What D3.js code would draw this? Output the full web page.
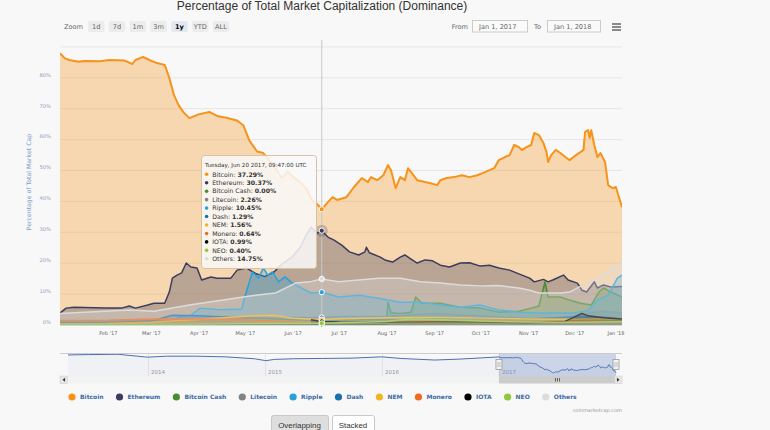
<!DOCTYPE html>
<html lang="en">
<head>
  <meta charset="utf-8">
  <title>Percentage of Total Market Capitalization (Dominance)</title>
  <script src="https://d3js.org/d3.v7.min.js"></script>
  <style>
    body { margin: 0; background: #f8f8f8; }
    svg { display: block; font-family: "DejaVu Sans", sans-serif; }
    .btn text { font-family: "Liberation Sans", Arial, sans-serif; }
  </style>
</head>
<body>
  <div id="chart"></div>

  <script>
    "use strict"

    // % of total market cap: [date, value]
    var bitcoin = [
      ["2017-01-01", 87.8], ["2017-01-04", 86.2], ["2017-01-07", 85.6], ["2017-01-13", 85.0],
      ["2017-01-17", 85.3], ["2017-01-27", 85.2], ["2017-02-02", 85.6], ["2017-02-12", 85.4],
      ["2017-02-17", 84.3], ["2017-02-19", 85.6], ["2017-02-24", 86.6], ["2017-02-28", 85.6],
      ["2017-03-05", 84.6], ["2017-03-10", 84.0], ["2017-03-13", 79.8], ["2017-03-16", 74.3],
      ["2017-03-19", 71.0], ["2017-03-22", 68.8], ["2017-03-26", 66.8], ["2017-04-01", 68.0],
      ["2017-04-08", 68.8], ["2017-04-13", 67.5], ["2017-04-19", 66.9], ["2017-04-26", 66.0],
      ["2017-04-30", 64.5], ["2017-05-04", 59.5], ["2017-05-09", 56.0], ["2017-05-13", 55.5],
      ["2017-05-17", 53.0], ["2017-05-21", 50.5], ["2017-05-25", 47.5], ["2017-05-29", 49.5],
      ["2017-06-02", 47.5], ["2017-06-06", 46.0], ["2017-06-10", 44.0], ["2017-06-14", 40.0],
      ["2017-06-17", 39.0], ["2017-06-20", 37.29], ["2017-06-24", 39.6], ["2017-06-27", 41.2],
      ["2017-06-30", 40.3], ["2017-07-06", 41.2], ["2017-07-11", 44.5], ["2017-07-16", 47.4],
      ["2017-07-20", 46.1], ["2017-07-22", 47.7], ["2017-07-26", 46.7], ["2017-07-30", 48.3],
      ["2017-08-02", 51.6], ["2017-08-04", 49.9], ["2017-08-07", 44.1], ["2017-08-10", 47.7],
      ["2017-08-13", 46.7], ["2017-08-15", 50.6], ["2017-08-17", 49.3], ["2017-08-21", 46.7],
      ["2017-08-26", 46.1], ["2017-08-29", 45.8], ["2017-09-03", 45.1], ["2017-09-05", 46.7],
      ["2017-09-09", 47.4], ["2017-09-14", 47.7], ["2017-09-19", 48.3], ["2017-09-24", 47.7],
      ["2017-09-29", 48.3], ["2017-10-04", 49.3], ["2017-10-10", 50.6], ["2017-10-13", 53.2],
      ["2017-10-17", 54.2], ["2017-10-20", 54.8], ["2017-10-23", 58.1], ["2017-10-26", 57.4],
      ["2017-10-28", 56.5], ["2017-10-31", 57.4], ["2017-11-03", 58.1], ["2017-11-05", 62.0],
      ["2017-11-08", 61.3], ["2017-11-11", 58.7], ["2017-11-13", 55.8], ["2017-11-14", 52.6],
      ["2017-11-16", 54.8], ["2017-11-19", 56.5], ["2017-11-22", 55.5], ["2017-11-26", 53.9],
      ["2017-11-28", 53.2], ["2017-12-02", 54.8], ["2017-12-05", 55.8], ["2017-12-07", 56.5],
      ["2017-12-08", 62.3], ["2017-12-10", 62.9], ["2017-12-11", 60.4], ["2017-12-12", 62.9],
      ["2017-12-14", 58.1], ["2017-12-16", 54.2], ["2017-12-18", 55.5], ["2017-12-21", 52.6],
      ["2017-12-23", 45.1], ["2017-12-26", 44.1], ["2017-12-28", 44.5], ["2017-12-30", 41.2],
      ["2018-01-01", 38.0]
    ];

    var ethereum = [
      ["2017-01-01", 3.7], ["2017-01-05", 5.3], ["2017-01-10", 5.6], ["2017-01-30", 5.3],
      ["2017-02-10", 5.3], ["2017-02-15", 6.0], ["2017-02-19", 5.3], ["2017-02-27", 6.3],
      ["2017-03-03", 6.9], ["2017-03-10", 6.9], ["2017-03-13", 10.5], ["2017-03-15", 15.0],
      ["2017-03-18", 16.0], ["2017-03-21", 16.7], ["2017-03-24", 19.9], ["2017-03-27", 18.6],
      ["2017-03-31", 18.3], ["2017-04-03", 14.4], ["2017-04-09", 15.4], ["2017-04-13", 15.0],
      ["2017-04-22", 15.0], ["2017-04-26", 17.6], ["2017-05-02", 18.3], ["2017-05-08", 16.5],
      ["2017-05-14", 15.5], ["2017-05-20", 17.0], ["2017-05-25", 19.5], ["2017-06-01", 22.0],
      ["2017-06-06", 25.0], ["2017-06-10", 29.0], ["2017-06-13", 31.5], ["2017-06-17", 29.5],
      ["2017-06-20", 30.37], ["2017-06-24", 28.3], ["2017-06-28", 27.3], ["2017-07-03", 25.7],
      ["2017-07-08", 23.5], ["2017-07-14", 22.5], ["2017-07-18", 23.5], ["2017-07-19", 25.0],
      ["2017-07-21", 23.2], ["2017-07-28", 21.8], ["2017-07-31", 20.9], ["2017-08-05", 20.2],
      ["2017-08-10", 21.8], ["2017-08-13", 22.5], ["2017-08-16", 21.5], ["2017-08-21", 19.9],
      ["2017-08-26", 20.9], ["2017-08-31", 20.6], ["2017-09-05", 19.2], ["2017-09-11", 18.6],
      ["2017-09-18", 19.9], ["2017-09-24", 20.0], ["2017-10-01", 18.9], ["2017-10-07", 19.2],
      ["2017-10-13", 18.3], ["2017-10-20", 17.6], ["2017-10-26", 16.4], ["2017-11-02", 15.0],
      ["2017-11-05", 13.8], ["2017-11-11", 14.6], ["2017-11-14", 13.8], ["2017-11-17", 14.4],
      ["2017-11-24", 16.0], ["2017-11-27", 14.4], ["2017-12-03", 13.4], ["2017-12-06", 11.1],
      ["2017-12-09", 10.5], ["2017-12-14", 13.8], ["2017-12-16", 11.8], ["2017-12-20", 12.8],
      ["2017-12-25", 12.1], ["2018-01-01", 12.3]
    ];

    var bitcoinCash = [
      ["2017-01-01", 0], ["2017-06-20", 0], ["2017-08-01", 0], ["2017-08-02", 7.2],
      ["2017-08-04", 3.8], ["2017-08-10", 3.6], ["2017-08-17", 4.0], ["2017-08-20", 8.9],
      ["2017-08-24", 6.9], ["2017-09-05", 6.9], ["2017-09-18", 5.6], ["2017-10-01", 5.3],
      ["2017-10-13", 4.0], ["2017-10-26", 4.3], ["2017-11-03", 5.3], ["2017-11-08", 6.0],
      ["2017-11-12", 13.8], ["2017-11-14", 8.9], ["2017-11-22", 8.9], ["2017-11-28", 7.9],
      ["2017-12-05", 6.9], ["2017-12-12", 6.3], ["2017-12-17", 10.5], ["2017-12-20", 11.8],
      ["2017-12-25", 10.5], ["2018-01-01", 8.9]
    ];

    var litecoin = [
      ["2017-01-01", 1.2], ["2017-02-01", 1.2], ["2017-03-01", 1.3], ["2017-04-01", 1.3],
      ["2017-04-20", 1.8], ["2017-05-01", 2.5], ["2017-06-01", 2.3], ["2017-06-20", 2.26],
      ["2017-07-01", 2.6], ["2017-08-01", 2.7], ["2017-09-01", 3.5], ["2017-10-01", 2.8],
      ["2017-11-01", 2.0], ["2017-11-20", 1.8], ["2017-12-12", 3.9], ["2017-12-20", 4.3],
      ["2018-01-01", 3.8]
    ];

    var ripple = [
      ["2017-01-01", 0.9], ["2017-02-01", 0.9], ["2017-03-01", 0.9], ["2017-03-15", 1.2],
      ["2017-03-20", 2.5], ["2017-03-27", 3.0], ["2017-04-02", 5.3], ["2017-04-15", 4.8],
      ["2017-04-29", 5.0], ["2017-05-01", 8.9], ["2017-05-06", 17.0], ["2017-05-10", 15.0],
      ["2017-05-13", 18.3], ["2017-05-16", 16.0], ["2017-05-19", 17.0], ["2017-05-23", 13.8],
      ["2017-05-27", 15.4], ["2017-06-01", 13.4], ["2017-06-07", 11.8], ["2017-06-13", 10.2],
      ["2017-06-20", 10.45], ["2017-07-01", 8.9], ["2017-07-14", 9.5], ["2017-07-27", 8.5],
      ["2017-08-10", 7.2], ["2017-08-23", 7.2], ["2017-09-05", 6.3], ["2017-09-18", 5.6],
      ["2017-10-01", 6.3], ["2017-10-08", 5.3], ["2017-10-13", 4.7], ["2017-10-20", 4.4],
      ["2017-10-26", 4.0], ["2017-11-08", 3.7], ["2017-11-22", 3.7], ["2017-12-01", 3.7],
      ["2017-12-10", 4.5], ["2017-12-16", 7.9], ["2017-12-23", 9.5], ["2017-12-29", 15.0],
      ["2018-01-01", 16.0]
    ];

    var dash = [
      ["2017-01-01", 0.5], ["2017-02-01", 0.6], ["2017-03-01", 1.1], ["2017-03-15", 3.0],
      ["2017-04-01", 2.8], ["2017-05-01", 2.2], ["2017-06-01", 1.6], ["2017-06-20", 1.29],
      ["2017-07-01", 1.4], ["2017-08-01", 1.6], ["2017-09-01", 1.9], ["2017-10-01", 2.2],
      ["2017-11-01", 1.8], ["2017-12-01", 2.4], ["2017-12-20", 2.4], ["2018-01-01", 1.8]
    ];

    var nem = [
      ["2017-01-01", 0.2], ["2017-02-01", 0.3], ["2017-03-01", 0.7], ["2017-03-15", 1.1],
      ["2017-04-01", 1.6], ["2017-05-01", 2.7], ["2017-05-20", 3.0], ["2017-06-01", 2.0],
      ["2017-06-20", 1.56], ["2017-07-01", 1.9], ["2017-08-01", 2.2], ["2017-09-01", 2.3],
      ["2017-10-01", 2.1], ["2017-11-01", 1.8], ["2017-12-01", 1.7], ["2017-12-20", 1.9],
      ["2018-01-01", 1.8]
    ];

    var monero = [
      ["2017-01-01", 1.3], ["2017-02-01", 1.4], ["2017-03-01", 1.8], ["2017-04-01", 1.8],
      ["2017-05-01", 1.5], ["2017-06-01", 0.8], ["2017-06-20", 0.64], ["2017-07-01", 0.7],
      ["2017-08-01", 0.9], ["2017-09-01", 1.4], ["2017-10-01", 1.1], ["2017-11-01", 1.0],
      ["2017-12-01", 1.2], ["2018-01-01", 1.0]
    ];

    var iota = [
      ["2017-06-13", 1.5], ["2017-06-20", 0.99], ["2017-07-01", 0.8], ["2017-08-01", 0.7],
      ["2017-09-01", 0.9], ["2017-10-01", 0.8], ["2017-11-01", 0.6], ["2017-11-25", 1.0],
      ["2017-12-06", 3.6], ["2017-12-10", 2.8], ["2017-12-20", 2.2], ["2018-01-01", 1.8]
    ];

    var neo = [
      ["2017-01-01", 0.05], ["2017-02-01", 0.05], ["2017-03-01", 0.1], ["2017-04-01", 0.1],
      ["2017-05-01", 0.3], ["2017-06-01", 0.4], ["2017-06-20", 0.40], ["2017-07-01", 0.6],
      ["2017-08-01", 1.0], ["2017-08-15", 1.8], ["2017-09-01", 1.6], ["2017-10-01", 1.1],
      ["2017-11-01", 0.8], ["2017-12-01", 0.7], ["2018-01-01", 0.9]
    ];

    var others = [
      ["2017-01-01", 3.6], ["2017-02-15", 4.7], ["2017-03-03", 4.3], ["2017-03-26", 6.3],
      ["2017-04-17", 7.9], ["2017-04-30", 8.9], ["2017-05-08", 9.5], ["2017-05-21", 10.2],
      ["2017-06-03", 13.4], ["2017-06-12", 13.8], ["2017-06-20", 14.75], ["2017-07-01", 13.8],
      ["2017-07-14", 14.4], ["2017-07-27", 15.0], ["2017-08-10", 15.0], ["2017-08-23", 13.8],
      ["2017-09-05", 13.4], ["2017-09-18", 12.8], ["2017-10-01", 12.5], ["2017-10-13", 12.6],
      ["2017-10-26", 11.8], ["2017-11-02", 11.1], ["2017-11-08", 10.2], ["2017-11-22", 10.2],
      ["2017-11-28", 10.5], ["2017-12-04", 12.1], ["2017-12-10", 13.4], ["2017-12-16", 15.0],
      ["2017-12-23", 17.0], ["2017-12-29", 19.2], ["2018-01-01", 19.5]
    ];

    // bitcoin share before 2017, only shown in the navigator
    var navHistory = [
      ["2013-04-28", 94], ["2013-07-01", 95], ["2013-10-01", 96], ["2013-12-01", 90],
      ["2014-01-01", 87], ["2014-03-01", 90], ["2014-06-01", 90], ["2014-09-01", 88],
      ["2014-12-01", 82], ["2015-01-05", 76], ["2015-02-01", 80], ["2015-04-01", 82],
      ["2015-07-01", 83], ["2015-10-01", 84], ["2016-01-01", 88], ["2016-03-01", 83],
      ["2016-06-15", 78], ["2016-09-01", 81], ["2016-12-01", 86]
    ];

    var seriesNames = ["Bitcoin", "Ethereum", "Bitcoin Cash", "Litecoin", "Ripple", "Dash",
                       "NEM", "Monero", "IOTA", "NEO", "Others"];
    var seriesData = [bitcoin, ethereum, bitcoinCash, litecoin, ripple, dash,
                      nem, monero, iota, neo, others];
    var seriesColors = ["#f7931a", "#3c3c5d", "#478e2f", "#838383", "#27a1dc", "#1a6fae",
                        "#f2b51f", "#ef6a1f", "#000000", "#92c83e", "#dcdcdc"];

    var monthTicks = ["2017-02-01", "2017-03-01", "2017-04-01", "2017-05-01", "2017-06-01", "2017-07-01",
                      "2017-08-01", "2017-09-01", "2017-10-01", "2017-11-01", "2017-12-01", "2018-01-01"];
    var monthLabels = ["Feb '17", "Mar '17", "Apr '17", "May '17", "Jun '17", "Jul '17",
                       "Aug '17", "Sep '17", "Oct '17", "Nov '17", "Dec '17", "Jan '18"];
    var yTicks = [0, 10, 20, 30, 40, 50, 60, 70, 80, 90];
    var navYears = ["2014", "2015", "2016", "2017"];
    var zoomButtons = ["1d", "7d", "1m", "3m", "1y", "YTD", "ALL"];
    var selectedZoom = "1y";
    var rangeFrom = "Jan 1, 2017", rangeTo = "Jan 1, 2018";
    var hoverDate = "2017-06-20";
    var hoverLabel = "Tuesday, Jun 20 2017, 09:47:00 UTC";

    var chartTitle = "Percentage of Total Market Capitalization (Dominance)";
    var yTitle = "Percentage of Total Market Cap";

    var parse = d3.utcParse("%Y-%m-%d");
    var toPoints = arr => arr.map(p => ({ date: parse(p[0]), v: p[1] }));

    var series = seriesNames.map((name, i) => ({
      name: name, color: seriesColors[i], points: toPoints(seriesData[i])
    }));

    var W = 770, H = 430;
    var plot = { left: 60, right: 622, top: 40, bottom: 325 };

    var svg = d3.select("#chart").append("svg")
      .attr("width", W).attr("height", H);

    svg.append("rect").attr("width", W).attr("height", H).attr("fill", "#f8f8f8");

    svg.append("text")
      .attr("x", 322).attr("y", 10)
      .attr("text-anchor", "middle")
      .attr("font-family", "Liberation Sans, Arial, sans-serif")
      .attr("font-size", 12).attr("fill", "#333")
      .text(chartTitle);

    /*
     * range selector
     */
    svg.append("text").attr("x", 64).attr("y", 28.6)
      .attr("font-size", 6.6).attr("fill", "#666").text("Zoom");

    zoomButtons.forEach(function(label, i) {
      var bx = 88 + i * 20.8, sel = label === selectedZoom;
      svg.append("rect").attr("x", bx).attr("y", 21).attr("width", 16.5).attr("height", 11)
        .attr("rx", 2).attr("fill", sel ? "#e3e7ef" : "#ececec");
      svg.append("text").attr("x", bx + 8.25).attr("y", 28.6)
        .attr("text-anchor", "middle").attr("font-size", 6.6)
        .attr("font-weight", sel ? "bold" : "normal")
        .attr("fill", sel ? "#000" : "#666").text(label);
    });

    function dateBox(label, value, lx, bx, bw) {
      svg.append("text").attr("x", lx).attr("y", 28.6).attr("text-anchor", "end")
        .attr("font-size", 6.6).attr("fill", "#666").text(label);
      svg.append("rect").attr("x", bx + 0.5).attr("y", 20.5).attr("width", bw).attr("height", 11.5)
        .attr("fill", "#fafafa").attr("stroke", "#cccccc");
      svg.append("text").attr("x", bx + 7).attr("y", 28.6)
        .attr("font-size", 6.6).attr("fill", "#666").text(value);
    }
    dateBox("From", rangeFrom, 468, 472, 55);
    dateBox("To", rangeTo, 541, 547, 53);

    [24, 27, 30].forEach(function(ly) {
      svg.append("line").attr("x1", 612).attr("x2", 621).attr("y1", ly).attr("y2", ly)
        .attr("stroke", "#666").attr("stroke-width", 1.5);
    });

    /*
     * main plot
     */
    var x = d3.scaleUtc()
      .domain([parse("2017-01-01"), parse("2018-01-01")])
      .range([plot.left, plot.right]);

    var y = d3.scaleLinear()
      .domain([0, 90])
      .range([324.5, 46.4]);

    var yAxis = svg.append("g")
      .attr("transform", "translate(" + plot.left + ",0)")
      .call(d3.axisLeft(y).tickValues(yTicks)
        .tickSize(-(plot.right - plot.left)).tickPadding(9)
        .tickFormat(d => d <= 80 ? d + "%" : ""));
    yAxis.select(".domain").remove();
    yAxis.selectAll("line").attr("stroke", "#e6e6e6");
    yAxis.selectAll("text")
      .attr("font-family", "DejaVu Sans").attr("font-size", 5.2)
      .attr("fill", "#8da2c0").attr("dy", -1.2);

    svg.append("text")
      .attr("transform", "translate(31,182) rotate(-90)")
      .attr("text-anchor", "middle")
      .attr("font-size", 6.2).attr("fill", "#7b9cc9")
      .text(yTitle);

    svg.append("clipPath").attr("id", "clip")
      .append("rect").attr("x", plot.left).attr("y", plot.top)
      .attr("width", plot.right - plot.left).attr("height", plot.bottom - plot.top);

    var area = d3.area().x(d => x(d.date)).y0(y(0)).y1(d => y(d.v));
    var line = d3.line().x(d => x(d.date)).y(d => y(d.v));

    var plotG = svg.append("g").attr("clip-path", "url(#clip)");

    series.forEach(function(s) {
      plotG.append("path").datum(s.points)
        .attr("d", area)
        .attr("fill", s.color).attr("fill-opacity", 0.32);
      plotG.append("path").datum(s.points)
        .attr("d", line)
        .attr("fill", "none").attr("stroke", s.color)
        .attr("stroke-width", s.name === "Bitcoin" ? 2 : 1.5)
        .attr("stroke-linejoin", "round");
    });

    var xAxis = svg.append("g")
      .attr("transform", "translate(0," + plot.bottom + ")")
      .call(d3.axisBottom(x).tickValues(monthTicks.map(parse))
        .tickFormat((d, i) => monthLabels[i])
        .tickSize(0).tickSizeOuter(0).tickPadding(6.6));
    xAxis.select(".domain").attr("stroke", "#ccd6eb");
    xAxis.selectAll("text")
      .attr("font-family", "DejaVu Sans").attr("font-size", 5)
      .attr("fill", "#666");
    xAxis.selectAll(".tick text")
      .filter((d, i, n) => i === n.length - 1)
      .attr("text-anchor", "end").attr("x", 2);

    // crosshair and hover markers
    var hx = x(parse(hoverDate));
    svg.append("line")
      .attr("x1", hx).attr("x2", hx).attr("y1", plot.top).attr("y2", plot.bottom)
      .attr("stroke", "#c8c8c8").attr("stroke-width", 1);

    var hovered = series.map(function(s) {
      var p = s.points.find(d => +d.date === +parse(hoverDate));
      return { name: s.name, color: s.color, v: p ? p.v : 0 };
    });

    hovered.forEach(function(h) {
      if (h.name === "Ethereum") {
        svg.append("circle").attr("cx", hx).attr("cy", y(h.v)).attr("r", 6)
          .attr("fill", h.color).attr("fill-opacity", 0.25);
      }
      svg.append("circle").attr("cx", hx).attr("cy", y(h.v)).attr("r", 2.6)
        .attr("fill", h.color).attr("stroke", "#fff").attr("stroke-width", 1);
    });

    // shared tooltip
    var tip = svg.append("g").attr("transform", "translate(201,155)");
    tip.append("rect")
      .attr("x", 0.5).attr("y", 0.5).attr("width", 115).attr("height", 113).attr("rx", 3)
      .attr("fill", "rgba(249,249,249,0.85)").attr("stroke", "#d6c3a5");
    tip.append("text").attr("x", 4).attr("y", 12)
      .attr("font-size", 5.6).attr("fill", "#333").text(hoverLabel);

    hovered.forEach(function(h, i) {
      var ly = 19.3 + i * 8.45;
      tip.append("circle").attr("cx", 5.6).attr("cy", ly).attr("r", 1.8).attr("fill", h.color);
      var t = tip.append("text").attr("x", 11.2).attr("y", ly + 2.2)
        .attr("font-size", 6.2).attr("fill", "#333");
      t.append("tspan").text(h.name + ": ");
      t.append("tspan").attr("font-weight", "bold").text(d3.format(".2f")(h.v) + "%");
    });

    /*
     * navigator + scrollbar
     */
    var navPoints = toPoints(navHistory).concat(series[0].points);
    var nx = d3.scaleUtc()
      .domain([parse("2013-04-28"), parse("2018-01-01")])
      .range([68, 616]);
    var ny = d3.scaleLinear().domain([0, 100]).range([385, 353]);
    var navTop = 353, navBottom = 376;

    svg.append("clipPath").attr("id", "navclip")
      .append("rect").attr("x", 60).attr("y", navTop)
      .attr("width", 562).attr("height", navBottom - navTop);

    var yearParse = d3.utcParse("%Y");
    navYears.forEach(function(yr) {
      var gx = Math.round(nx(yearParse(yr))) + 0.5;
      svg.append("line").attr("x1", gx).attr("x2", gx).attr("y1", navTop).attr("y2", navBottom)
        .attr("stroke", "#e6e6e6");
      svg.append("text").attr("x", gx + 2.5).attr("y", 374)
        .attr("font-size", 5.5).attr("fill", "#999").text(yr);
    });

    var navG = svg.append("g").attr("clip-path", "url(#navclip)");
    navG.append("path").datum(navPoints)
      .attr("d", d3.area().x(d => nx(d.date)).y0(ny(0)).y1(d => ny(d.v)))
      .attr("fill", "#4572a7").attr("fill-opacity", 0.05);
    navG.append("path").datum(navPoints)
      .attr("d", d3.line().x(d => nx(d.date)).y(d => ny(d.v)))
      .attr("fill", "none").attr("stroke", "#4a6fb5").attr("stroke-width", 1);

    var selA = nx(x.domain()[0]), selB = nx(x.domain()[1]);
    svg.append("rect").attr("x", selA).attr("y", navTop)
      .attr("width", selB - selA).attr("height", navBottom - navTop)
      .attr("fill", "rgba(102,133,194,0.3)");
    svg.append("line").attr("x1", 60).attr("x2", 622).attr("y1", navTop + 0.5).attr("y2", navTop + 0.5)
      .attr("stroke", "#cccccc");

    [selA, selB].forEach(function(hxx) {
      svg.append("rect").attr("x", hxx - 3).attr("y", 359.5).attr("width", 6).attr("height", 10)
        .attr("fill", "#f2f2f2").attr("stroke", "#999").attr("stroke-width", 0.8);
      [-1, 1].forEach(function(o) {
        svg.append("line").attr("x1", hxx + o).attr("x2", hxx + o).attr("y1", 362).attr("y2", 367)
          .attr("stroke", "#999").attr("stroke-width", 0.6);
      });
    });

    svg.append("rect").attr("x", 60).attr("y", 376).attr("width", 562).attr("height", 7.5)
      .attr("fill", "#f2f2f2");
    svg.append("rect").attr("x", selA).attr("y", 376).attr("width", selB - selA).attr("height", 7.5)
      .attr("fill", "#cccccc");
    [-2, 0, 2].forEach(function(o) {
      var gx = (selA + selB) / 2 + o;
      svg.append("line").attr("x1", gx).attr("x2", gx).attr("y1", 378).attr("y2", 381.5)
        .attr("stroke", "#333").attr("stroke-width", 0.7);
    });
    [[60, -1], [614.5, 1]].forEach(function(b) {
      svg.append("rect").attr("x", b[0]).attr("y", 376).attr("width", 7.5).attr("height", 7.5)
        .attr("fill", "#e6e6e6").attr("stroke", "#cccccc").attr("stroke-width", 0.5);
      var cx = b[0] + 3.75, d = b[1];
      svg.append("path")
        .attr("d", "M" + (cx - d * 1.3) + ",377.8 L" + (cx + d * 1.3) + ",379.75 L" + (cx - d * 1.3) + ",381.7 Z")
        .attr("fill", "#333");
    });

    /*
     * legend
     */
    var lx = 72;
    series.forEach(function(s) {
      svg.append("circle").attr("cx", lx).attr("cy", 397).attr("r", 3.6).attr("fill", s.color);
      var t = svg.append("text").attr("x", lx + 8).attr("y", 399.2)
        .attr("font-size", 6).attr("font-weight", "bold").attr("fill", "#3b6ba5")
        .text(s.name);
      lx += 8 + t.node().getComputedTextLength() + 16;
    });

    svg.append("text").attr("x", 622).attr("y", 411.5).attr("text-anchor", "end")
      .attr("font-size", 5).attr("fill", "#999").text("coinmarketcap.com");

    // overlapping / stacked toggle
    var btns = svg.append("g").attr("class", "btn");
    [["Overlapping", 271, 57, true], ["Stacked", 332, 42, false]].forEach(function(b) {
      btns.append("rect").attr("x", b[1] + 0.5).attr("y", 415.5).attr("width", b[2]).attr("height", 20)
        .attr("rx", 2).attr("fill", b[3] ? "#dedede" : "#ffffff").attr("stroke", "#c8c8c8");
      btns.append("text").attr("x", b[1] + b[2] / 2).attr("y", 427.5).attr("text-anchor", "middle")
        .attr("font-size", 7.9).attr("fill", "#333").text(b[0]);
    });
  </script>
</body>
</html>
